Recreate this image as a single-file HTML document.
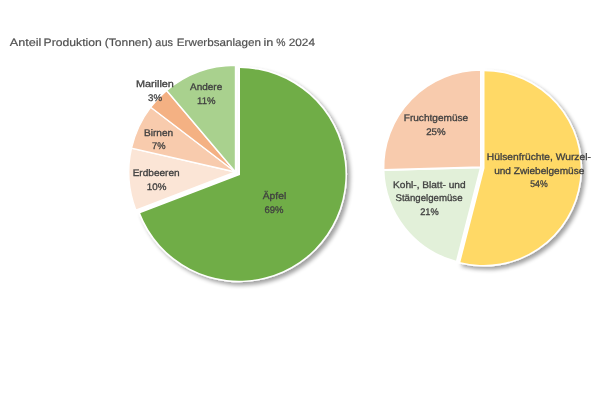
<!DOCTYPE html>
<html lang="de"><head><meta charset="utf-8"><title>Anteil Produktion</title>
<style>
html,body{margin:0;padding:0;background:#fff;}
body{width:600px;height:400px;overflow:hidden;}
svg{display:block;}
text{font-family:"Liberation Sans",sans-serif;text-rendering:geometricPrecision;fill:#404040;stroke:#404040;stroke-width:0.3px;}
.t{font-size:10.8px;fill:#505050;stroke:#505050;stroke-width:0.18px;}
.l{font-size:9.6px;}
</style></head><body>
<svg width="600" height="400" viewBox="0 0 600 400">
<defs><filter id="sh" x="-10%" y="-10%" width="125%" height="125%"><feGaussianBlur in="SourceAlpha" stdDeviation="2.0"/><feOffset dx="2.8" dy="2.8"/><feComponentTransfer><feFuncA type="linear" slope="0.38"/></feComponentTransfer><feMerge><feMergeNode/><feMergeNode in="SourceGraphic"/></feMerge></filter><filter id="soft" x="0" y="0" width="600" height="400" filterUnits="userSpaceOnUse"><feGaussianBlur stdDeviation="0.4"/></filter></defs>
<rect width="600" height="400" fill="#fff"/>
<g filter="url(#soft)">
<path d="M235.50,172.00L135.89,210.24A106.70,106.70 0 0 1 131.49,148.18Z" fill="#FBE5D6" stroke="#fff" stroke-width="1.4" stroke-linejoin="miter"/>
<path d="M235.50,172.00L131.49,148.18A106.70,106.70 0 0 1 150.74,107.19Z" fill="#F8CBAD" stroke="#fff" stroke-width="1.4" stroke-linejoin="miter"/>
<path d="M235.50,172.00L150.74,107.19A106.70,106.70 0 0 1 166.63,90.50Z" fill="#F4B183" stroke="#fff" stroke-width="1.4" stroke-linejoin="miter"/>
<path d="M235.50,172.00L166.63,90.50A106.70,106.70 0 0 1 235.50,65.30Z" fill="#A9D18E" stroke="#fff" stroke-width="1.4" stroke-linejoin="miter"/>
<path d="M239.15,174.40L239.15,67.35A107.05,107.05 0 1 1 139.21,212.76Z" fill="#fff" stroke="#fff" stroke-width="1.7" stroke-linejoin="miter" filter="url(#sh)"/>
<path d="M239.15,174.40L239.15,68.10A106.30,106.30 0 1 1 139.91,212.49Z" fill="#70AD47"/>
<path d="M239.15,66.50L239.15,174.40L138.42,213.07" fill="none" stroke="#fff" stroke-width="1.7" stroke-linejoin="miter"/>
<path d="M481.00,167.35L456.73,261.88A97.60,97.60 0 0 1 383.43,169.90Z" fill="#E2F0D9" stroke="#fff" stroke-width="2.0" stroke-linejoin="miter"/>
<path d="M481.00,167.35L383.43,169.90A97.60,97.60 0 0 1 481.00,69.75Z" fill="#F8CBAD" stroke="#fff" stroke-width="2.0" stroke-linejoin="miter"/>
<path d="M483.65,168.10L483.65,70.45A97.65,97.65 0 1 1 459.37,262.68Z" fill="#fff" stroke="#fff" stroke-width="1.7" stroke-linejoin="miter" filter="url(#sh)"/>
<path d="M483.65,168.10L483.65,71.20A96.90,96.90 0 1 1 459.55,261.96Z" fill="#FFD966"/>
<path d="M483.65,69.60L483.65,168.10L459.15,263.51" fill="none" stroke="#fff" stroke-width="1.7" stroke-linejoin="miter"/>
<text class="t" y="45.80"><tspan x="9.78" textLength="31.57" lengthAdjust="spacingAndGlyphs">Anteil</tspan> <tspan x="43.50" textLength="58.29" lengthAdjust="spacingAndGlyphs">Produktion</tspan> <tspan x="104.75" textLength="47.49" lengthAdjust="spacingAndGlyphs">(Tonnen)</tspan> <tspan x="155.34" textLength="17.56" lengthAdjust="spacingAndGlyphs">aus</tspan> <tspan x="176.85" textLength="84.11" lengthAdjust="spacingAndGlyphs">Erwerbsanlagen</tspan> <tspan x="263.45" textLength="9.87" lengthAdjust="spacingAndGlyphs">in</tspan> <tspan x="276.13" textLength="9.24" lengthAdjust="spacingAndGlyphs">%</tspan> <tspan x="288.70" textLength="26.34" lengthAdjust="spacingAndGlyphs">2024</tspan></text>
<text class="l" x="135.91" y="87.20" textLength="38.00" lengthAdjust="spacingAndGlyphs">Marillen</text>
<text class="l" x="148.13" y="100.80" textLength="14.01" lengthAdjust="spacingAndGlyphs">3%</text>
<text class="l" x="189.98" y="90.00" textLength="32.26" lengthAdjust="spacingAndGlyphs">Andere</text>
<text class="l" x="197.07" y="103.70" textLength="18.47" lengthAdjust="spacingAndGlyphs">11%</text>
<text class="l" x="143.97" y="135.50" textLength="29.18" lengthAdjust="spacingAndGlyphs">Birnen</text>
<text class="l" x="152.02" y="149.00" textLength="13.51" lengthAdjust="spacingAndGlyphs">7%</text>
<text class="l" x="132.67" y="176.00" textLength="46.98" lengthAdjust="spacingAndGlyphs">Erdbeeren</text>
<text class="l" x="146.75" y="189.70" textLength="19.60" lengthAdjust="spacingAndGlyphs">10%</text>
<text class="l" x="262.78" y="198.80" textLength="23.41" lengthAdjust="spacingAndGlyphs">Äpfel</text>
<text class="l" x="264.52" y="212.50" textLength="19.02" lengthAdjust="spacingAndGlyphs">69%</text>
<text class="l" x="403.77" y="121.40" textLength="64.37" lengthAdjust="spacingAndGlyphs">Fruchtgemüse</text>
<text class="l" x="426.21" y="135.30" textLength="19.43" lengthAdjust="spacingAndGlyphs">25%</text>
<text class="l" x="393.02" y="187.60" textLength="72.53" lengthAdjust="spacingAndGlyphs">Kohl-, Blatt- und</text>
<text class="l" x="395.46" y="200.90" textLength="67.07" lengthAdjust="spacingAndGlyphs">Stängelgemüse</text>
<text class="l" x="420.14" y="214.60" textLength="18.49" lengthAdjust="spacingAndGlyphs">21%</text>
<text class="l" x="486.86" y="160.00" textLength="104.00" lengthAdjust="spacingAndGlyphs">Hülsenfrüchte, Wurzel-</text>
<text class="l" x="494.15" y="173.70" textLength="90.20" lengthAdjust="spacingAndGlyphs">und Zwiebelgemüse</text>
<text class="l" x="530.25" y="186.60" textLength="17.36" lengthAdjust="spacingAndGlyphs">54%</text>
</g>
</svg></body></html>
